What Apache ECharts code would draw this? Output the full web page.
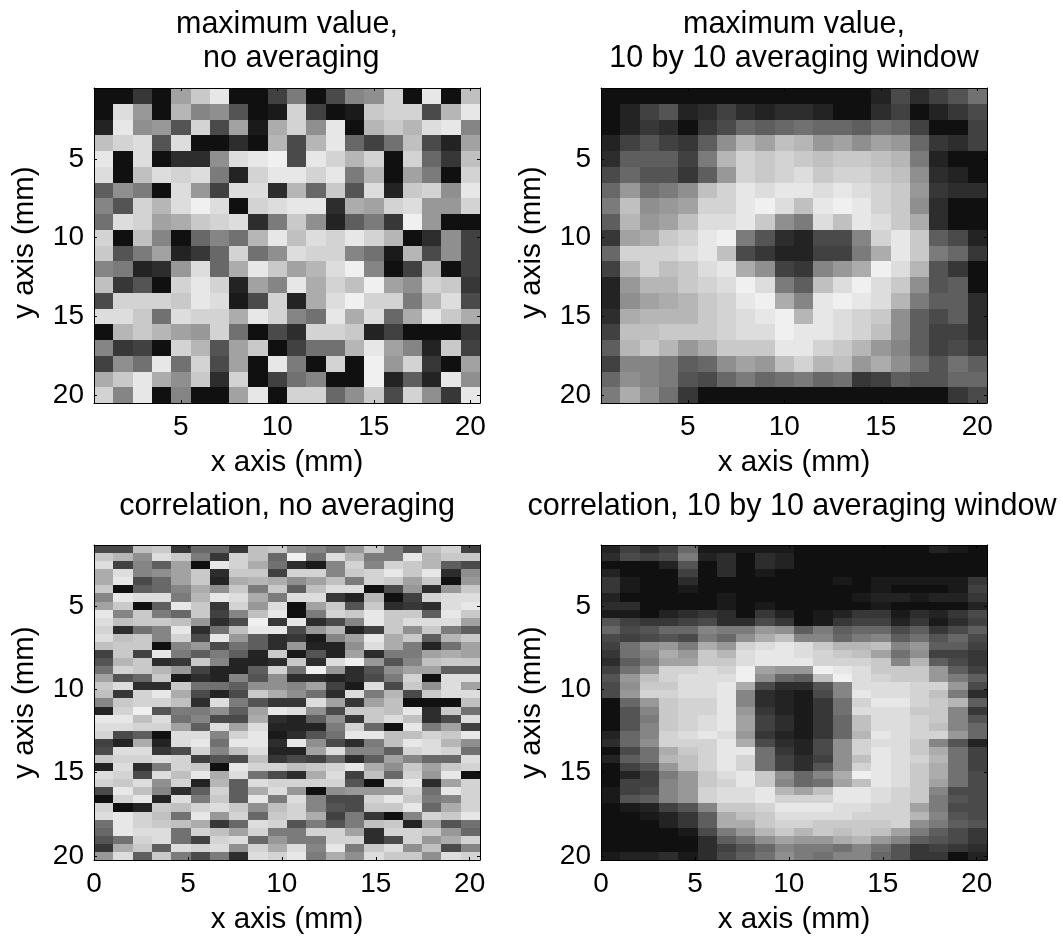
<!DOCTYPE html>
<html><head><meta charset="utf-8">
<style>html,body{margin:0;padding:0;background:#fff}#c{width:1063px;height:936px}</style>
<script src="https://cdn.jsdelivr.net/npm/echarts@6/dist/echarts.min.js"></script>
</head><body><div id="c"></div>
<script>
// Values are grey levels / 10.
const maxNoAvg = [
[1,1,5,1,16,20,23,1,1,6,12,1,7,13,14,21,1,23,1,19],
[1,22,15,1,18,13,14,8,1,2,21,6,1,2,20,21,21,7,18,23],
[3,23,14,15,8,21,7,16,2,17,21,14,23,1,18,20,18,22,23,13],
[19,21,22,8,22,1,1,4,1,18,7,18,23,10,6,11,19,7,3,16],
[23,1,22,1,4,4,14,22,23,24,7,23,21,18,21,1,21,10,5,19],
[22,1,19,22,21,22,12,3,21,23,23,21,23,12,18,1,16,12,1,21],
[9,14,12,1,22,15,6,22,22,4,18,10,20,8,22,3,20,21,14,23],
[13,8,21,18,22,24,22,1,21,22,23,23,4,17,16,21,22,15,15,21],
[11,22,21,16,17,20,21,22,4,12,20,14,3,9,12,5,24,15,1,1],
[21,1,19,13,1,10,13,11,18,23,19,22,21,23,21,18,1,4,14,6],
[20,8,12,16,3,5,10,21,11,14,22,21,21,13,11,2,18,7,14,6],
[13,12,3,4,15,22,10,17,23,20,16,18,22,24,13,1,6,18,1,6],
[19,5,8,1,21,23,21,3,16,13,23,17,21,19,24,16,14,21,20,5],
[7,21,21,21,20,23,22,2,7,21,3,17,22,24,21,21,12,18,22,7],
[22,22,20,11,22,21,21,17,23,21,13,11,23,17,22,10,17,23,20,17],
[1,18,20,18,16,15,21,11,1,7,4,21,21,20,3,6,1,1,1,5],
[13,5,6,1,21,18,8,16,20,1,6,11,11,18,23,16,13,3,20,6],
[6,14,11,23,11,21,7,16,1,23,12,1,21,1,24,15,21,5,1,16],
[17,20,23,17,14,20,4,21,1,6,11,13,1,1,24,3,9,3,23,14],
[21,13,23,1,13,1,1,16,23,1,21,21,10,14,20,7,21,14,5,23]
];
const maxAvg = [
[1,1,1,1,1,1,1,1,1,1,1,1,1,1,3,7,4,6,8,11],
[1,3,6,8,3,4,6,4,3,4,4,3,1,1,4,6,1,3,5,7],
[1,3,5,4,1,5,7,10,9,10,11,10,10,9,11,10,6,1,1,6],
[3,6,8,6,5,9,14,18,16,19,18,15,16,14,16,15,10,5,4,6],
[4,9,9,9,6,12,18,21,20,21,20,19,20,20,19,18,12,3,1,1],
[7,10,8,8,5,9,15,21,20,21,22,20,21,21,20,19,14,4,3,1],
[10,15,11,12,14,19,21,23,22,23,23,22,23,22,21,20,15,5,4,4],
[12,19,14,15,16,21,21,23,24,22,19,23,24,23,21,20,14,4,1,1],
[9,18,15,16,19,22,22,23,20,14,12,22,19,23,22,20,17,4,1,1],
[5,16,17,20,21,23,24,12,8,4,3,7,7,13,21,23,20,9,7,3],
[10,21,21,21,22,23,19,7,5,3,3,6,6,12,17,23,20,12,10,5],
[6,18,21,19,20,22,23,17,14,6,5,13,15,17,24,22,18,8,5,1],
[3,15,18,18,20,21,22,24,22,12,9,19,22,24,22,20,14,8,9,1],
[3,14,16,17,18,20,21,23,24,17,13,23,24,23,22,18,12,9,9,4],
[4,17,18,18,18,20,21,22,23,24,18,23,22,21,20,14,9,7,9,4],
[6,19,19,20,20,20,21,22,22,24,23,23,22,21,19,14,9,6,6,4],
[9,18,20,18,15,17,20,20,20,23,23,21,20,18,15,13,9,6,7,5],
[6,13,13,12,9,10,14,16,15,19,21,18,19,15,17,14,11,8,11,9],
[10,14,13,12,8,7,10,12,10,11,12,10,11,5,6,9,8,8,10,10],
[12,17,14,11,5,1,1,1,1,1,1,1,1,1,1,1,1,1,5,7]
];
const corrNoAvg = [
[7,7,19,20,5,10,10,5,19,20,14,13,11,15,20,12,8,19,21,6],
[20,18,14,22,20,12,5,21,19,10,24,11,22,18,12,12,23,18,20,20],
[22,6,13,9,16,1,23,21,17,11,4,2,13,21,13,21,20,18,9,7],
[17,22,13,14,16,20,4,20,20,6,21,21,13,20,21,23,20,23,4,14],
[17,23,7,10,16,20,3,17,18,17,14,16,19,12,21,20,16,20,1,15],
[20,1,9,10,13,17,14,20,12,20,9,19,22,22,1,7,15,4,15,20],
[13,23,22,22,12,18,23,22,17,12,22,22,5,3,18,1,6,21,22,22],
[16,20,1,9,23,20,5,21,15,22,1,16,20,8,20,4,5,4,22,23],
[23,13,20,12,10,20,6,13,19,23,1,12,21,20,23,20,20,9,23,20],
[22,19,20,20,19,15,4,7,24,5,23,4,7,13,23,20,22,22,22,16],
[21,4,11,13,23,4,11,19,23,23,7,15,18,3,6,20,14,20,12,9],
[22,19,20,13,21,7,23,15,9,4,5,2,13,16,23,17,20,9,18,20],
[19,20,20,1,13,15,7,11,9,4,15,3,3,14,22,17,12,3,11,16],
[6,20,6,23,12,9,12,9,3,20,2,8,3,16,4,12,12,16,17,16],
[8,18,20,4,5,20,13,3,3,4,20,4,22,24,15,8,13,19,20,20],
[11,21,20,18,15,6,3,3,9,21,11,24,15,4,8,14,16,16,9,9],
[16,8,10,20,2,4,3,13,8,14,4,4,3,4,7,12,21,1,22,22],
[20,22,4,4,20,11,11,9,14,14,13,16,6,2,22,7,20,14,22,16],
[19,5,21,23,17,7,3,7,20,17,14,11,4,22,12,18,7,20,22,22],
[13,20,21,21,19,4,22,12,8,5,5,22,16,5,16,19,1,1,1,19],
[3,21,24,8,12,12,14,9,16,23,22,14,7,20,20,19,23,4,20,11],
[23,23,19,22,11,13,7,7,17,4,3,9,14,5,20,22,19,4,7,22],
[22,22,21,21,16,9,22,16,22,3,3,3,12,21,10,1,23,12,16,6],
[21,7,9,1,22,22,13,21,23,2,4,8,11,23,23,19,19,21,20,23],
[6,3,17,3,22,23,11,23,23,4,23,14,7,4,12,19,23,22,18,14],
[7,22,22,5,7,21,13,19,22,3,3,16,22,13,13,9,21,22,21,11],
[20,21,21,22,21,6,8,7,19,5,7,6,10,4,9,16,13,10,10,22],
[3,22,4,12,21,20,1,23,21,21,19,20,21,23,17,14,20,16,20,21],
[22,21,7,22,19,23,17,22,11,7,4,17,22,6,19,10,21,15,23,1],
[21,20,22,14,21,3,18,9,22,21,21,21,21,8,1,22,23,4,16,21],
[7,23,19,13,4,9,21,9,17,22,15,1,14,15,15,15,21,11,23,21],
[1,21,23,3,22,12,20,9,23,12,22,13,7,7,21,23,20,12,13,21],
[21,1,3,20,19,21,22,20,14,19,21,13,8,7,20,20,23,10,17,21],
[22,23,21,19,11,23,15,21,10,20,21,17,6,12,5,1,13,21,20,23],
[11,23,21,20,19,17,5,10,22,21,8,12,8,12,19,20,3,16,8,11],
[10,23,22,22,11,21,19,16,21,12,12,21,21,16,4,21,21,20,15,10],
[8,11,21,22,11,6,21,22,10,15,12,12,21,21,4,7,21,15,17,21],
[5,17,20,9,22,21,22,14,21,17,22,13,23,12,20,22,14,19,7,13],
[15,22,9,20,12,7,12,4,22,21,23,12,17,14,22,20,20,14,22,21]
];
const corrAvg = [
[3,6,4,6,10,2,2,2,2,2,1,1,1,1,1,1,1,3,2,1],
[4,7,6,7,12,3,4,1,4,3,1,1,1,1,1,1,1,1,1,1],
[1,1,1,3,8,1,4,1,4,3,1,1,1,1,1,1,1,1,1,1],
[3,1,1,1,6,1,4,1,2,1,1,1,1,1,1,1,1,1,1,1],
[5,2,1,1,4,1,1,1,1,1,1,1,2,1,2,2,2,2,2,5],
[5,2,1,1,2,1,1,1,1,1,1,1,1,1,2,1,1,1,2,6],
[3,1,1,1,1,1,2,1,1,1,1,1,1,2,3,3,2,3,3,5],
[4,4,1,1,1,1,2,1,2,1,1,1,1,1,2,1,1,1,1,3],
[2,2,1,3,4,5,4,1,5,3,1,2,3,5,5,2,4,3,5,7],
[8,6,5,5,6,7,4,4,7,5,1,2,5,6,6,3,5,2,4,6],
[10,7,8,10,10,13,12,12,15,14,9,12,9,10,10,7,9,5,7,9],
[7,6,7,8,7,12,10,14,17,19,13,13,10,12,13,9,11,8,10,7],
[6,11,14,15,12,17,15,21,22,23,22,20,18,18,19,13,15,9,9,6],
[5,11,13,17,15,20,18,22,23,23,22,21,20,19,16,11,14,6,6,5],
[4,9,12,16,16,20,20,22,23,23,23,21,21,21,20,13,18,9,7,5],
[6,11,15,21,21,22,21,24,16,15,15,24,23,22,20,20,20,15,9,6],
[8,15,19,21,22,22,22,24,14,10,9,19,24,22,21,20,20,15,12,9],
[7,14,20,20,22,22,23,17,7,4,4,8,13,22,22,22,21,21,15,7],
[7,15,21,21,22,22,23,13,4,3,2,7,13,23,22,22,21,19,12,4],
[1,10,15,20,21,21,23,13,4,3,2,5,11,21,23,23,21,20,18,9],
[1,8,13,20,21,21,23,15,5,3,2,5,11,22,22,22,20,20,13,5],
[1,8,12,20,21,22,23,16,6,4,2,5,10,19,22,22,21,20,13,8],
[1,8,13,20,21,22,23,16,6,4,2,5,10,19,22,22,21,19,13,10],
[3,10,13,21,22,23,22,15,5,3,2,5,10,18,23,22,21,21,15,10],
[4,10,14,21,21,21,23,17,7,4,3,7,14,21,22,22,20,13,8,3],
[1,7,11,17,20,21,23,23,11,5,3,7,14,21,23,22,20,17,11,6],
[3,9,11,18,19,21,23,21,11,6,4,6,14,19,23,22,21,18,11,6],
[1,6,8,15,19,21,23,21,11,6,4,8,14,21,23,22,20,17,11,6],
[1,3,6,12,15,20,22,23,20,14,10,13,17,24,23,22,20,17,11,7],
[1,6,6,13,15,20,21,23,20,13,10,11,16,19,23,22,20,16,11,7],
[2,6,7,13,15,21,22,22,23,18,16,19,23,23,22,21,20,13,7,7],
[2,8,9,13,15,21,22,22,23,21,21,21,23,23,22,21,20,12,8,7],
[1,2,3,6,8,13,20,20,21,23,23,23,22,22,21,21,16,12,7,7],
[1,1,2,3,5,9,17,19,20,22,22,22,22,21,21,21,18,13,8,7],
[1,1,1,3,5,9,17,17,20,21,21,20,20,20,20,21,14,12,9,8],
[1,1,1,1,2,7,12,15,18,20,18,20,19,20,19,16,12,9,7,5],
[1,1,1,1,1,4,9,11,14,16,15,15,17,18,15,13,9,8,7,5],
[1,1,1,1,1,4,6,8,10,13,12,12,11,13,11,8,5,6,5,4],
[2,3,3,4,2,4,7,9,11,14,12,11,13,13,10,8,5,5,1,3]
];
const titles = ['maximum value,\n no averaging','maximum value,\n10 by 10 averaging window','correlation, no averaging','correlation, 10 by 10 averaging window'];
const xTicksTop = [5,10,15,20];
const xTicksBottom = [0,5,10,15,20];
const yTicks = [5,10,15,20];
const xName = 'x axis (mm)', yName = 'y axis (mm)';

const FONT = 'Liberation Sans', FS = 28, NFS = 29.5, TFS = 30.5;
const panels = [
 {d:maxNoAvg, left:94, top:88, xr:[0.5,20.5], yr:[0.5,20.5], xt:xTicksTop, tx:287, ty:8, np:[0,0,0,6]},
 {d:maxAvg, left:601, top:88, xr:[0.5,20.5], yr:[0.5,20.5], xt:xTicksTop, tx:794, ty:8, np:[0,0,0,6]},
 {d:corrNoAvg, left:94, top:545, xr:[0,20.55], yr:[1.3,20.25], xt:xTicksBottom, tx:287, ty:490, np:0},
 {d:corrAvg, left:601, top:545, xr:[0,20.55], yr:[1.3,20.25], xt:xTicksBottom, tx:792, ty:490, np:0}
];
const line = {show:true,onZero:false,lineStyle:{color:'#000',width:1}};
const opt = {animation:false,backgroundColor:'#fff',title:[],grid:[],xAxis:[],yAxis:[],series:[],
 visualMap:{show:false,min:0,max:25.5,dimension:2,inRange:{color:['#060606','#fff']}}};
panels.forEach((p,i)=>{
 opt.title.push({text:titles[i],left:p.tx,top:p.ty,textAlign:'center',padding:0,
   textStyle:{fontFamily:FONT,fontSize:TFS,fontWeight:'normal',color:'#000',lineHeight:34}});
 opt.grid.push({left:p.left,top:p.top,width:386,height:315,containLabel:false});
 const tick = v=>({show:true,inside:true,length:3,customValues:v,lineStyle:{color:'#000',width:1}});
 opt.xAxis.push({type:'value',gridIndex:i,position:'bottom',min:p.xr[0],max:p.xr[1],z:10,axisLine:line,axisTick:tick(p.xt),
   splitLine:{show:false},axisLabel:{customValues:p.xt,color:'#000',fontFamily:FONT,fontSize:FS,margin:10},
   name:xName,nameLocation:'middle',nameGap:45,nameTextStyle:{color:'#000',fontFamily:FONT,fontSize:NFS}});
 opt.xAxis.push({type:'value',gridIndex:i,position:'top',min:p.xr[0],max:p.xr[1],z:10,axisLine:line,axisTick:tick(p.xt),
   splitLine:{show:false},axisLabel:{show:false}});
 opt.yAxis.push({type:'value',gridIndex:i,position:'left',inverse:true,min:p.yr[0],max:p.yr[1],z:10,axisLine:line,axisTick:tick(yTicks),
   splitLine:{show:false},axisLabel:{customValues:yTicks,color:'#000',fontFamily:FONT,fontSize:FS,margin:10},
   name:yName,nameLocation:'middle',nameRotate:90,nameGap:54,nameTextStyle:{color:'#000',fontFamily:FONT,fontSize:NFS,padding:p.np}});
 opt.yAxis.push({type:'value',gridIndex:i,position:'right',inverse:true,min:p.yr[0],max:p.yr[1],z:10,axisLine:line,axisTick:tick(yTicks),
   splitLine:{show:false},axisLabel:{show:false}});
 const rows=p.d.length, cols=p.d[0].length;
 const dx=(p.xr[1]-p.xr[0])/cols, dy=(p.yr[1]-p.yr[0])/rows;
 const data=[];
 p.d.forEach((row,r)=>row.forEach((v,c)=>data.push([p.xr[0]+(c+.5)*dx,p.yr[0]+(r+.5)*dy,v])));
 opt.series.push({type:'custom',coordinateSystem:'cartesian2d',xAxisIndex:i*2,yAxisIndex:i*2,z:2,silent:true,
  encode:{x:0,y:1},data,
  renderItem:(params,api)=>{
   const a=api.coord([api.value(0)-dx/2,api.value(1)-dy/2]);
   const b=api.coord([api.value(0)+dx/2,api.value(1)+dy/2]);
   const x0=Math.round(a[0]),y0=Math.round(a[1]),x1=Math.round(b[0]),y1=Math.round(b[1]);
   return {type:'rect',shape:{x:x0,y:y0,width:x1-x0,height:y1-y0},style:{fill:api.visual('color')}};
  }});
});
echarts.init(document.getElementById('c'),null,{renderer:'canvas'}).setOption(opt);
</script></body></html>
